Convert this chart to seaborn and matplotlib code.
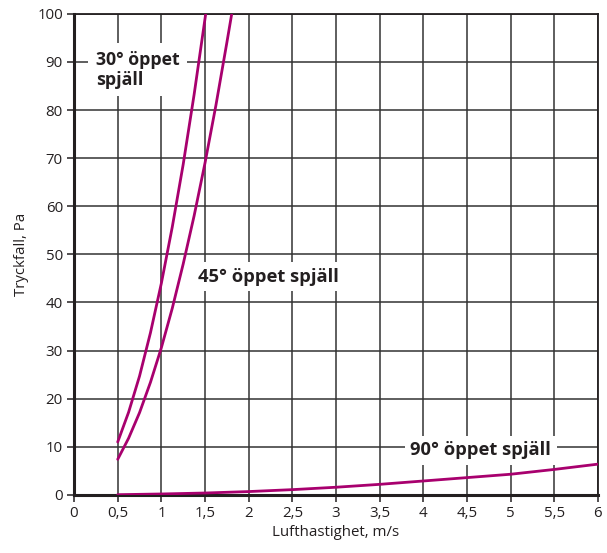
import matplotlib
matplotlib.use("Agg")
import matplotlib.pyplot as plt
import matplotlib.ticker as mticker
import seaborn as sns
import pandas as pd

# Data
x_30 = [0.5, 0.625, 0.75, 0.875, 1.0, 1.125, 1.25, 1.375, 1.508]
y_30 = [11.0, 17.2, 24.7, 33.7, 44.0, 55.7, 68.7, 83.2, 100.0]

x_45 = [0.5, 0.625, 0.75, 0.875, 1.0, 1.125, 1.25, 1.375, 1.5, 1.625, 1.75, 1.806]
y_45 = [7.4, 11.8, 17.1, 23.4, 30.6, 38.8, 48.0, 58.0, 69.0, 81.0, 94.0, 100.0]

x_90 = [0.5, 1.0, 1.5, 2.0, 2.5, 3.0, 3.5, 4.0, 4.5, 5.0, 5.5, 6.0]
y_90 = [0.05, 0.2, 0.4, 0.7, 1.1, 1.6, 2.2, 2.9, 3.6, 4.3, 5.3, 6.4]

labels = ["30° öppet\nspjäll", "45° öppet spjäll", "90° öppet spjäll"]
x_ticks = [0, 0.5, 1, 1.5, 2, 2.5, 3, 3.5, 4, 4.5, 5, 5.5, 6]
y_ticks = [0, 10, 20, 30, 40, 50, 60, 70, 80, 90, 100]

df = pd.concat([
    pd.DataFrame({"v": x_30, "p": y_30, "s": "30"}),
    pd.DataFrame({"v": x_45, "p": y_45, "s": "45"}),
    pd.DataFrame({"v": x_90, "p": y_90, "s": "90"}),
])

sns.set_theme(style="white")
plt.rcParams['font.family'] = ['Open Sans', 'DejaVu Sans']

fig = plt.figure(figsize=(6.07, 5.53), dpi=100)
ax = fig.add_axes([0.122, 0.105, 0.863, 0.870])

color = "#a8006e"
sns.lineplot(data=df, x="v", y="p", hue="s", palette=[color]*3, legend=False,
             linewidth=2.0, ax=ax, sort=False, estimator=None, zorder=5)

ax.set_xlim(0, 6)
ax.set_ylim(0, 100)
ax.set_xticks(x_ticks)
ax.set_yticks(y_ticks)
ax.xaxis.set_major_formatter(mticker.FuncFormatter(lambda v, p: f"{v:g}".replace(".", ",")))
ax.grid(True, color="#333333", linewidth=1.1, zorder=1)
ax.set_axisbelow(True)
for sp in ax.spines.values():
    sp.set_color("#231f20")
    sp.set_linewidth(1.3)
ax.spines["left"].set_linewidth(2.2)
ax.spines["bottom"].set_linewidth(2.2)
ax.tick_params(axis="both", direction="out", length=5, width=1.1, color="#231f20",
               labelsize=10.8, labelcolor="#231f20", bottom=True, left=True, pad=3)
ax.set_xlabel("Lufthastighet, m/s", fontsize=10.8, color="#231f20", labelpad=3)
ax.set_ylabel("Tryckfall, Pa", fontsize=10.8, color="#231f20", labelpad=6)

lab_fs = 13.2
ax.text(0.25, 88.4, labels[0], ha="left", va="center", fontsize=12.8, fontweight="bold",
        color="#231f20", bbox=dict(facecolor="white", edgecolor="none", pad=5.5),
        zorder=4, linespacing=1.15)
ax.text(2.23, 45.3, labels[1], ha="center", va="center", fontsize=lab_fs, fontweight="bold",
        color="#231f20", bbox=dict(facecolor="white", edgecolor="none", pad=4), zorder=4)
ax.text(4.66, 9.3, labels[2], ha="center", va="center", fontsize=lab_fs, fontweight="bold",
        color="#231f20", bbox=dict(facecolor="white", edgecolor="none", pad=4), zorder=4)

fig.savefig("out.png", dpi=100)
